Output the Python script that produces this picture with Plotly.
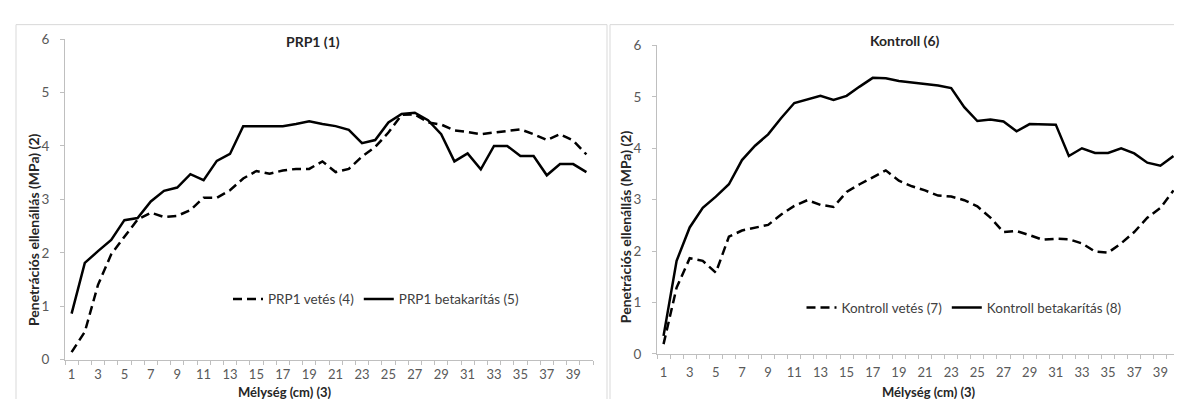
import plotly.graph_objects as go

depth = list(range(1, 41))

prp1_vetes = [0.14, 0.52, 1.4, 1.97, 2.3, 2.62, 2.75, 2.67, 2.69, 2.8, 3.03, 3.03, 3.17, 3.39,
              3.53, 3.48, 3.54, 3.57, 3.57, 3.71, 3.51, 3.57, 3.8, 3.98, 4.25, 4.58, 4.59, 4.44,
              4.4, 4.29, 4.26, 4.22, 4.25, 4.28, 4.31, 4.22, 4.11, 4.22, 4.1, 3.84]
prp1_betakaritas = [0.86, 1.81, 2.03, 2.24, 2.61, 2.65, 2.96, 3.16, 3.22, 3.47, 3.36, 3.72, 3.85,
                    4.37, 4.37, 4.37, 4.37, 4.41, 4.46, 4.41, 4.37, 4.3, 4.05, 4.11, 4.44, 4.6,
                    4.62, 4.48, 4.22, 3.71, 3.86, 3.56, 4.0, 4.0, 3.81, 3.81, 3.45, 3.66, 3.66, 3.51]

kontroll_vetes = [0.19, 1.29, 1.86, 1.81, 1.58, 2.28, 2.4, 2.46, 2.51, 2.71, 2.88, 2.99, 2.9,
                  2.86, 3.15, 3.3, 3.43, 3.57, 3.37, 3.26, 3.18, 3.08, 3.06, 2.99, 2.87, 2.65,
                  2.37, 2.39, 2.31, 2.22, 2.24, 2.23, 2.15, 1.99, 1.97, 2.15, 2.37, 2.65, 2.84, 3.18]
kontroll_betakaritas = [0.35, 1.81, 2.46, 2.84, 3.06, 3.3, 3.77, 4.05, 4.27, 4.59, 4.88, 4.95, 5.02,
                        4.94, 5.02, 5.2, 5.37, 5.36, 5.31, 5.28, 5.25, 5.22, 5.17, 4.8, 4.53, 4.56,
                        4.52, 4.33, 4.47, 4.47, 4.46, 3.85, 4.0, 3.91, 3.91, 4.0, 3.9, 3.72, 3.66, 3.85]

xticks = list(range(1, 40, 2))
yticks = [0, 1, 2, 3, 4, 5, 6]

W, H = 1182, 399
FONT = "Lato, 'Open Sans', sans-serif"
DASH = "9px,5px"

def px(x):
    return x / W

def py(y):
    return (H - y) / H

fig = go.Figure()

fig.add_trace(go.Scatter(x=depth, y=prp1_vetes, mode="lines", name="PRP1 vetés (4)",
                         line=dict(color="black", width=2.5, dash=DASH),
                         xaxis="x", yaxis="y", legend="legend"))
fig.add_trace(go.Scatter(x=depth, y=prp1_betakaritas, mode="lines", name="PRP1 betakarítás (5)",
                         line=dict(color="black", width=2.5),
                         xaxis="x", yaxis="y", legend="legend"))
fig.add_trace(go.Scatter(x=depth, y=kontroll_vetes, mode="lines", name="Kontroll vetés (7)",
                         line=dict(color="black", width=2.5, dash=DASH),
                         xaxis="x2", yaxis="y2", legend="legend2"))
fig.add_trace(go.Scatter(x=depth, y=kontroll_betakaritas, mode="lines", name="Kontroll betakarítás (8)",
                         line=dict(color="black", width=2.5),
                         xaxis="x2", yaxis="y2", legend="legend2"))

def xaxis_style(standoff):
    return dict(range=[0.5, 40.5], tickmode="array", tickvals=xticks,
                ticktext=[str(v) for v in xticks], showgrid=False, zeroline=False,
                showline=True, linecolor="#bfbfbf", linewidth=1, ticks="",
                tickfont=dict(family=FONT, size=13, color="#595959"),
                ticklabelstandoff=standoff,
                minor=dict(tickmode="linear", tick0=0.5, dtick=1, ticks="outside",
                           ticklen=4, tickcolor="#bfbfbf", showgrid=False))

ycommon = dict(range=[0, 6], tickmode="array", tickvals=yticks, showgrid=False, zeroline=False,
               showline=True, linecolor="#bfbfbf", linewidth=1, ticks="outside", ticklen=4,
               tickcolor="#bfbfbf", tickfont=dict(family=FONT, size=13.5, color="#595959"),
               ticklabelstandoff=8)

fig.update_layout(
    width=W, height=H,
    margin=dict(l=0, r=0, t=0, b=0),
    paper_bgcolor="white", plot_bgcolor="white",
    font=dict(family=FONT, size=13.5, color="#404040"),
    xaxis=dict(domain=[px(57), px(585)], anchor="y", **xaxis_style(3)),
    yaxis=dict(domain=[py(358), py(24)], anchor="x", **ycommon),
    xaxis2=dict(domain=[px(649), px(1172)], anchor="y2", **xaxis_style(7)),
    yaxis2=dict(domain=[py(352), py(30.7)], anchor="x2", **ycommon),
    legend=dict(orientation="h", x=px(368), y=py(295), xanchor="center", yanchor="middle",
                bgcolor="rgba(0,0,0,0)", itemwidth=30,
                font=dict(family=FONT, size=13.5, color="#404040")),
    legend2=dict(orientation="h", x=px(956), y=py(304), xanchor="center", yanchor="middle",
                 bgcolor="rgba(0,0,0,0)", itemwidth=30,
                 font=dict(family=FONT, size=13.5, color="#404040")),
    showlegend=True,
)

ann = [
    dict(text="<b>PRP1 (1)</b>", x=px(305), y=py(27), size=14),
    dict(text="<b>Kontroll (6)</b>", x=px(897), y=py(26), size=14),
    dict(text="<b>Mélység (cm) (3)</b>", x=px(277), y=py(391.5), size=13),
    dict(text="<b>Mélység (cm) (3)</b>", x=px(921), y=py(391.5), size=13),
    dict(text="<b>Penetrációs ellenállás (MPa) (2)</b>", x=px(25), y=py(223), textangle=-90, size=14),
    dict(text="<b>Penetrációs ellenállás (MPa) (2)</b>", x=px(617), y=py(220), textangle=-90, size=14),
]
for a in ann:
    size = a.pop("size")
    fig.add_annotation(xref="paper", yref="paper", showarrow=False, xanchor="center",
                       yanchor="middle", font=dict(family=FONT, size=size, color="#262626"), **a)

# chart-area borders
border = dict(color="#d9d9d9", width=1)
fig.add_shape(type="line", xref="paper", yref="paper", x0=px(8), x1=px(599), y0=py(9), y1=py(9), line=border)
fig.add_shape(type="line", xref="paper", yref="paper", x0=px(8), x1=px(8), y0=py(9), y1=0, line=border)
fig.add_shape(type="line", xref="paper", yref="paper", x0=px(599), x1=px(599), y0=py(9), y1=0, line=border)
fig.add_shape(type="line", xref="paper", yref="paper", x0=px(602), x1=1, y0=py(9), y1=py(9), line=border)
fig.add_shape(type="line", xref="paper", yref="paper", x0=px(602), x1=px(602), y0=py(9), y1=0, line=border)

fig.write_html("out.html")
